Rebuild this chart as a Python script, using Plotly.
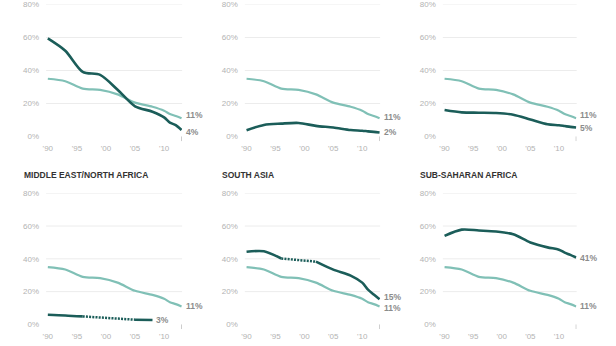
import plotly.graph_objects as go

years = [1990, 1993, 1996, 1999, 2002, 2005, 2008, 2010, 2011, 2012, 2013]
world = [35.0, 33.5, 29.0, 28.2, 25.5, 20.5, 18.0, 15.6, 13.6, 12.4, 11.0]
east_asia = [59.5, 52.0, 39.2, 37.3, 28.3, 18.3, 15.0, 11.6, 8.4, 6.9, 3.9]
europe = [3.8, 7.0, 7.8, 8.2, 6.4, 5.4, 3.9, 3.5, 3.1, 2.8, 2.4]
latin = [16.0, 14.6, 14.4, 14.2, 13.2, 10.3, 7.4, 6.8, 6.3, 5.8, 5.4]
mena = [5.9, 5.5, 4.9, None, None, 2.9, 2.7, None, None, None, None]
south_asia = [44.3, 44.6, 40.2, None, 38.3, 33.4, 29.8, 25.5, 21.2, 18.2, 15.3]
ssa = [54.0, 57.8, 57.3, 56.7, 55.0, 50.0, 47.0, 45.6, 43.8, 42.4, 40.8]

titles = ["EAST ASIA & PACIFIC", "EUROPE & CENTRAL ASIA", "LATIN AMERICA & CARIBBEAN",
          "MIDDLE EAST/NORTH AFRICA", "SOUTH ASIA", "SUB-SAHARAN AFRICA"]
regions = [east_asia, europe, latin, mena, south_asia, ssa]
# (world label shift, region label shift) in px
label_shifts = [(3, -2), (1, 1), (3, 0), (0, 0), (-2, 2), (0, 0)]

x_ticks = [1990, 1995, 2000, 2005, 2010]
x_ticktext = ["'90", "'95", "'00", "'05", "'10"]
y_ticks = [0, 20, 40, 60, 80]
y_ticktext = ["0%", "20%", "40%", "60%", "80%"]

W, H = 616, 346
col_px = [(43.3, 180.0), (243.0, 379.0), (442.0, 576.5)]
row_px = [(0.5, 136.0), (194.3, 329.0)]  # (80% y, 0% y)

LIGHT = "#80c0b6"
DARK = "#1b5d59"
GRID = "#ececec"
TICK = "#b3b3b3"
LBL = "#8c8c8c"
FONT = "Liberation Sans, Arial, sans-serif"

fig = go.Figure()
layout = dict(
    width=W, height=H, margin=dict(l=0, r=0, t=0, b=0),
    paper_bgcolor="white", plot_bgcolor="white", showlegend=False,
    font=dict(family=FONT),
)
annotations = []
shapes = []

for i, (title, reg) in enumerate(zip(titles, regions)):
    r, c = divmod(i, 3)
    n = i + 1
    xa = "x" if n == 1 else f"x{n}"
    ya = "y" if n == 1 else f"y{n}"
    x0, x1 = col_px[c]
    ytop, ybot = row_px[r]
    layout[f"xaxis{n}" if n > 1 else "xaxis"] = dict(
        domain=[x0 / W, x1 / W], range=[1989.7, 2013.1], anchor=ya,
        tickvals=x_ticks, ticktext=x_ticktext, showgrid=False, zeroline=False,
        showline=False, ticks="", tickfont=dict(size=8, color=TICK, family=FONT),
        ticklabelstandoff=6, fixedrange=True,
    )
    layout[f"yaxis{n}" if n > 1 else "yaxis"] = dict(
        domain=[1 - ybot / H, 1 - ytop / H], range=[0, 80], anchor=xa,
        tickvals=y_ticks, ticktext=y_ticktext, showgrid=False, zeroline=False,
        showline=False, ticks="", tickfont=dict(size=8, color=TICK, family=FONT),
        ticklabelstandoff=6, fixedrange=True,
    )
    # gridlines (no line at 0%)
    for v in y_ticks[1:]:
        shapes.append(dict(type="line", xref=f"{xa} domain", yref=ya, x0=0, x1=1,
                           y0=v, y1=v, line=dict(color=GRID, width=1), layer="below"))
    # small tick at final year
    shapes.append(dict(type="line", xref=xa, yref=f"{ya} domain", x0=years[-1], x1=years[-1],
                       y0=0, y1=-0.035, line=dict(color="#cccccc", width=1)))

    # world line
    fig.add_trace(go.Scatter(x=years, y=world, xaxis=xa, yaxis=ya, mode="lines",
                             line=dict(color=LIGHT, width=2.2, shape="spline", smoothing=0.8),
                             hoverinfo="skip"))
    # dotted bridges over missing data
    valid = [k for k, v in enumerate(reg) if v is not None]
    for a, b in zip(valid[:-1], valid[1:]):
        if b - a > 1:
            fig.add_trace(go.Scatter(x=[years[a], years[b]], y=[reg[a], reg[b]],
                                     xaxis=xa, yaxis=ya, mode="lines",
                                     line=dict(color=DARK, width=2.5, dash="2px,1.2px"),
                                     hoverinfo="skip"))
    fig.add_trace(go.Scatter(x=years, y=reg, xaxis=xa, yaxis=ya, mode="lines",
                             connectgaps=False,
                             line=dict(color=DARK, width=2.6, shape="spline", smoothing=0.8),
                             hoverinfo="skip"))

    ws, rs = label_shifts[i]
    annotations.append(dict(x=years[-1], y=world[-1], xref=xa, yref=ya,
                            text=f"{round(world[-1])}%", showarrow=False,
                            xanchor="left", yanchor="middle", xshift=2, yshift=ws,
                            font=dict(size=8.5, color=LBL, family=FONT, weight="bold")))
    last = valid[-1]
    annotations.append(dict(x=years[last], y=reg[last], xref=xa, yref=ya,
                            text=f"{round(reg[last])}%", showarrow=False,
                            xanchor="left", yanchor="middle", xshift=2, yshift=rs,
                            font=dict(size=8.5, color=LBL, family=FONT, weight="bold")))
    # panel title
    title_y_px = ytop - 18.5
    annotations.append(dict(x=(x0 - 24.5) / W, y=1 - title_y_px / H, xref="paper", yref="paper",
                            text=title, showarrow=False, xanchor="left", yanchor="middle",
                            font=dict(size=8.5, color="#333333", family=FONT, weight="bold")))

layout["annotations"] = annotations
layout["shapes"] = shapes
fig.update_layout(**layout)
fig.write_html("out.html")
